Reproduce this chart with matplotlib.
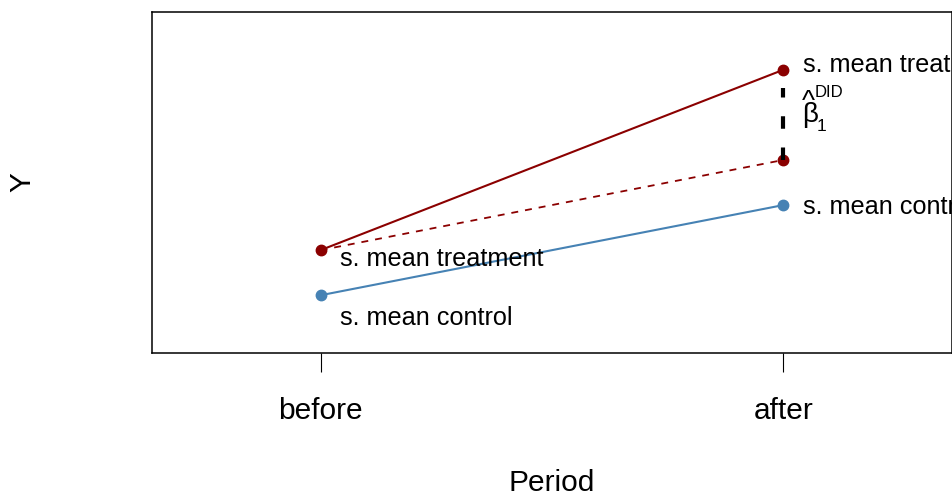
import numpy as np
import matplotlib
matplotlib.use("Agg")
import matplotlib.pyplot as plt

plt.rcParams['font.family'] = ['Liberation Sans', 'DejaVu Sans']
plt.rcParams['lines.scale_dashes'] = False

# data
periods = ['before', 'after']
x_pos = [1, 2]
control = [6, 8]
treatment = [7, 11]
counterfactual = [7, 9]

fig = plt.figure(figsize=(9.52, 4.93), dpi=100)
ax = fig.add_axes([152/952, 1-353/493, (952-152)/952, (353-12)/493])

# R style 4% extension
ax.set_xlim(0.7 - 0.064, 2.3 + 0.064)
ax.set_ylim(5 - 0.28, 12 + 0.28)

ax.plot(x_pos, treatment, color='darkred', lw=1.5, marker='o', ms=7.5)
ax.plot(x_pos, control, color='steelblue', lw=1.5, marker='o', ms=7.5)
ax.plot(x_pos, counterfactual, color='darkred', lw=1.3, dashes=(5, 5))
ax.plot(x_pos[1], counterfactual[1], 'o', color='darkred', ms=7.5)
ax.plot([x_pos[1], x_pos[1]], [counterfactual[1], 10.6], color='black',
        lw=3, dashes=(9, 13.5), solid_capstyle='butt', dash_capstyle='butt')

fs = 18.2
ax.text(1.043, 6.8, 's. mean treatment', fontsize=fs, va='center', clip_on=True)
ax.text(1.043, 5.5, 's. mean control', fontsize=fs, va='center', clip_on=True)
ax.text(2.043, 11.1, 's. mean treatment', fontsize=fs, va='center', clip_on=True)
ax.text(2.043, 7.95, 's. mean control', fontsize=fs, va='center', clip_on=True)

# beta hat label built from pieces (R plotmath style)
ax.text(2.040, 9.84, '\u03b2', fontsize=20, va='baseline', clip_on=True)
ax.text(2.039, 10.13, '^', fontsize=20, va='baseline', clip_on=True)
ax.text(2.071, 9.64, '1', fontsize=12.5, va='baseline', clip_on=True)
ax.text(2.068, 10.39, 'DID', fontsize=12, va='baseline', clip_on=True)

for s in ax.spines.values():
    s.set_linewidth(1.1)
ax.set_yticks([])
ax.set_xticks(x_pos)
ax.set_xticklabels(periods, fontsize=21.5)
ax.tick_params(axis='x', length=13.7, width=0.8, pad=18)

fig.text(22/952, 1-182/493, 'Y', fontsize=21.5, rotation=90, ha='center', va='center')
fig.text(552/952, 1-483/493, 'Period', fontsize=21.5, ha='center', va='center')

fig.savefig('out.png', dpi=100)
